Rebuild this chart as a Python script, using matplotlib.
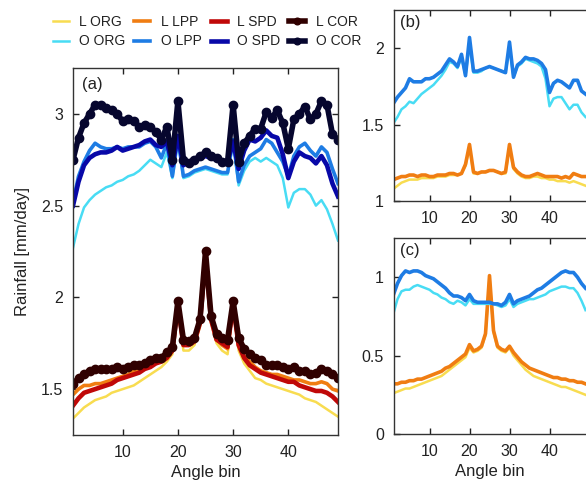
import numpy as np
import matplotlib
matplotlib.use("Agg")
import matplotlib.pyplot as plt

plt.rcParams['font.family'] = ['Liberation Sans', 'DejaVu Sans']

angle_bin = list(range(1, 50))

# ---- panel (a) ----
a_L_ORG = [1.34,1.37,1.40,1.42,1.44,1.45,1.46,1.48,1.49,1.50,1.51,1.52,1.54,1.56,1.58,1.60,1.62,1.65,1.69,1.94,
           1.71,1.71,1.74,1.84,2.20,1.86,1.75,1.71,1.69,1.94,1.71,1.64,1.60,1.56,1.55,1.53,1.52,1.51,1.50,1.49,
           1.48,1.47,1.45,1.44,1.43,1.41,1.39,1.37,1.35]
a_L_LPP = [1.47,1.50,1.52,1.52,1.53,1.53,1.54,1.55,1.56,1.57,1.58,1.60,1.61,1.62,1.63,1.65,1.66,1.68,1.71,1.96,
           1.74,1.74,1.76,1.86,2.22,1.88,1.77,1.74,1.72,1.96,1.74,1.68,1.65,1.62,1.60,1.59,1.58,1.58,1.57,1.56,
           1.55,1.55,1.54,1.53,1.53,1.54,1.53,1.50,1.49]
a_L_SPD = [1.41,1.45,1.48,1.49,1.50,1.51,1.52,1.53,1.55,1.56,1.57,1.58,1.59,1.61,1.62,1.64,1.65,1.67,1.71,1.96,
           1.74,1.74,1.76,1.86,2.22,1.88,1.77,1.75,1.73,1.96,1.74,1.67,1.63,1.61,1.59,1.58,1.57,1.56,1.55,1.54,
           1.54,1.52,1.51,1.50,1.49,1.49,1.48,1.46,1.43]
a_L_COR = [1.53,1.56,1.58,1.60,1.61,1.61,1.61,1.61,1.62,1.61,1.62,1.63,1.63,1.64,1.66,1.67,1.67,1.70,1.73,1.98,
           1.77,1.76,1.78,1.88,2.25,1.90,1.80,1.78,1.77,1.98,1.78,1.72,1.69,1.67,1.66,1.63,1.63,1.63,1.62,1.61,
           1.62,1.60,1.60,1.58,1.59,1.61,1.60,1.58,1.56]
a_O_ORG = [2.27,2.40,2.49,2.53,2.56,2.58,2.60,2.61,2.63,2.64,2.66,2.67,2.69,2.72,2.75,2.73,2.71,2.79,2.65,2.85,
           2.65,2.66,2.68,2.69,2.70,2.69,2.68,2.67,2.67,2.84,2.61,2.69,2.74,2.76,2.74,2.76,2.74,2.72,2.65,2.49,
           2.57,2.59,2.59,2.56,2.50,2.53,2.48,2.40,2.31]
a_O_LPP = [2.52,2.66,2.74,2.80,2.84,2.82,2.81,2.81,2.82,2.81,2.82,2.82,2.82,2.84,2.85,2.82,2.76,2.84,2.66,2.87,
           2.66,2.67,2.69,2.70,2.71,2.70,2.69,2.68,2.68,2.86,2.63,2.72,2.77,2.79,2.81,2.86,2.84,2.79,2.74,2.66,
           2.77,2.82,2.84,2.80,2.77,2.82,2.79,2.70,2.62]
a_O_SPD = [2.50,2.63,2.72,2.76,2.78,2.79,2.79,2.80,2.82,2.80,2.81,2.82,2.83,2.85,2.86,2.83,2.82,2.85,2.72,2.88,
           2.72,2.74,2.75,2.76,2.77,2.76,2.75,2.74,2.74,2.85,2.70,2.80,2.86,2.85,2.87,2.91,2.88,2.87,2.78,2.65,
           2.74,2.79,2.77,2.76,2.73,2.77,2.72,2.62,2.55]
a_O_COR = [2.75,2.87,2.95,3.00,3.05,3.05,3.03,3.02,3.00,2.96,2.97,2.96,2.93,2.94,2.93,2.90,2.86,2.93,2.75,3.07,
           2.75,2.73,2.75,2.77,2.79,2.77,2.76,2.74,2.74,3.05,2.74,2.84,2.88,2.92,2.92,3.01,2.98,3.02,2.95,2.81,
           2.97,3.00,3.04,2.97,3.00,3.07,3.05,2.89,2.86]

# ---- panel (b) ----
b_L_ORG = [1.08,1.10,1.12,1.13,1.14,1.14,1.14,1.15,1.15,1.15,1.15,1.16,1.16,1.16,1.17,1.17,1.17,1.18,1.23,1.35,
           1.18,1.18,1.19,1.19,1.20,1.20,1.19,1.18,1.18,1.35,1.21,1.18,1.16,1.15,1.15,1.16,1.16,1.15,1.15,1.14,
           1.14,1.13,1.13,1.13,1.12,1.13,1.12,1.11,1.10]
b_L_LPP = [1.14,1.15,1.16,1.16,1.17,1.17,1.16,1.17,1.17,1.16,1.16,1.17,1.17,1.17,1.18,1.18,1.17,1.18,1.24,1.37,
           1.19,1.18,1.19,1.19,1.20,1.20,1.19,1.18,1.19,1.37,1.22,1.19,1.17,1.16,1.16,1.17,1.18,1.17,1.16,1.16,
           1.16,1.16,1.15,1.16,1.15,1.18,1.17,1.16,1.16]
b_O_ORG = [1.51,1.55,1.60,1.62,1.65,1.64,1.67,1.70,1.72,1.74,1.76,1.79,1.82,1.86,1.91,1.90,1.87,1.94,1.82,2.02,
           1.84,1.84,1.85,1.87,1.88,1.87,1.86,1.85,1.84,2.00,1.81,1.88,1.90,1.93,1.92,1.91,1.90,1.88,1.80,1.62,
           1.67,1.68,1.68,1.64,1.60,1.63,1.63,1.58,1.55]
b_O_LPP = [1.64,1.68,1.71,1.74,1.80,1.78,1.78,1.78,1.80,1.80,1.81,1.83,1.85,1.89,1.93,1.91,1.88,1.96,1.82,2.07,
           1.85,1.85,1.86,1.87,1.88,1.87,1.86,1.85,1.84,2.04,1.81,1.89,1.91,1.94,1.93,1.93,1.92,1.90,1.86,1.71,
           1.77,1.79,1.78,1.76,1.74,1.79,1.79,1.72,1.70]

# ---- panel (c) ----
c_L_ORG = [0.26,0.27,0.28,0.29,0.29,0.30,0.31,0.32,0.33,0.34,0.35,0.36,0.37,0.39,0.41,0.43,0.45,0.47,0.49,0.55,
           0.52,0.53,0.55,0.63,1.00,0.65,0.55,0.53,0.52,0.55,0.50,0.47,0.44,0.41,0.39,0.37,0.36,0.35,0.34,0.33,
           0.32,0.31,0.30,0.30,0.29,0.28,0.27,0.26,0.25]
c_L_LPP = [0.32,0.32,0.33,0.33,0.34,0.34,0.35,0.35,0.36,0.37,0.38,0.39,0.40,0.42,0.43,0.45,0.47,0.49,0.51,0.57,
           0.53,0.54,0.56,0.64,1.01,0.66,0.56,0.54,0.53,0.56,0.52,0.49,0.46,0.44,0.42,0.41,0.40,0.39,0.38,0.37,
           0.36,0.36,0.35,0.35,0.34,0.34,0.33,0.33,0.32]
c_O_ORG = [0.77,0.86,0.91,0.92,0.92,0.94,0.95,0.94,0.93,0.92,0.90,0.89,0.87,0.86,0.84,0.83,0.85,0.84,0.82,0.86,
           0.83,0.83,0.83,0.83,0.83,0.83,0.82,0.81,0.82,0.86,0.81,0.83,0.84,0.85,0.86,0.86,0.87,0.88,0.89,0.91,
           0.92,0.93,0.94,0.94,0.93,0.93,0.90,0.85,0.79]
c_O_LPP = [0.89,0.96,1.01,1.04,1.03,1.04,1.04,1.03,1.01,1.00,0.99,0.97,0.95,0.93,0.90,0.88,0.88,0.87,0.85,0.89,
           0.85,0.84,0.84,0.84,0.84,0.83,0.83,0.82,0.84,0.89,0.83,0.85,0.86,0.87,0.88,0.90,0.92,0.93,0.95,0.97,
           0.99,1.01,1.03,1.04,1.03,1.03,1.00,0.96,0.93]

series_labels = ["L ORG", "L LPP", "L SPD", "L COR", "O ORG", "O LPP", "O SPD", "O COR"]
colors = {"L ORG": "#f8dc50", "L LPP": "#f07d12", "L SPD": "#c00808", "L COR": "#300000",
          "O ORG": "#48dcf4", "O LPP": "#1e7ce4", "O SPD": "#0808a8", "O COR": "#06062e"}
styles = {"ORG": dict(lw=1.8), "LPP": dict(lw=2.6), "SPD": dict(lw=3.3),
          "COR": dict(lw=4.0, marker='o', ms=6)}

def style(lbl):
    return styles[lbl.split()[1]]

fig = plt.figure(figsize=(5.86, 4.90), dpi=100)
W, H = 586.0, 490.0
ax_a = fig.add_axes([73/W, 1-435/H, (338-73)/W, (435-68)/H])
ax_b = fig.add_axes([393.5/W, 1-201/H, (585.5-393.5)/W, (201-10)/H])
ax_c = fig.add_axes([393.5/W, 1-434/H, (585.5-393.5)/W, (434-238)/H])

a_data = dict(zip(series_labels, [a_L_ORG, a_L_LPP, a_L_SPD, a_L_COR, a_O_ORG, a_O_LPP, a_O_SPD, a_O_COR]))
handles = {}
for lbl in series_labels:
    h, = ax_a.plot(angle_bin, a_data[lbl], color=colors[lbl], label=lbl, solid_joinstyle='round', **style(lbl))
    handles[lbl] = h

for ax, d in [(ax_b, {"L ORG": b_L_ORG, "L LPP": b_L_LPP, "O ORG": b_O_ORG, "O LPP": b_O_LPP}),
              (ax_c, {"L ORG": c_L_ORG, "L LPP": c_L_LPP, "O ORG": c_O_ORG, "O LPP": c_O_LPP})]:
    for lbl, vals in d.items():
        ax.plot(angle_bin, vals, color=colors[lbl], solid_joinstyle='round', **style(lbl))

ax_a.set_ylim(1.25, 3.25)
ax_a.set_yticks([1.5, 2, 2.5, 3])
ax_a.set_yticklabels(["1.5", "2", "2.5", "3"])
ax_b.set_ylim(1, 2.25)
ax_b.set_yticks([1, 1.5, 2])
ax_b.set_yticklabels(["1", "1.5", "2"])
ax_c.set_ylim(0, 1.25)
ax_c.set_yticks([0, 0.5, 1])
ax_c.set_yticklabels(["0", "0.5", "1"])

for ax, tag in [(ax_a, "(a)"), (ax_b, "(b)"), (ax_c, "(c)")]:
    ax.set_xlim(1, 49)
    ax.set_xticks([10, 20, 30, 40])
    ax.tick_params(direction='in', length=4, width=1, top=True, right=(ax is ax_a),
                   labelsize=11.5, colors='#222222', pad=7)
    for s in ax.spines.values():
        s.set_color('#333333')
        s.set_linewidth(1.0)
    ax.text(0.035, 0.975, tag, transform=ax.transAxes, ha='left', va='top', fontsize=12, color='#222222')

ax_b.spines['right'].set_visible(False)
ax_c.spines['right'].set_visible(False)

ax_a.set_xlabel("Angle bin", fontsize=12, color='#222222', labelpad=4)
ax_c.set_xlabel("Angle bin", fontsize=12, color='#222222', labelpad=4)
ax_a.set_ylabel("Rainfall [mm/day]", fontsize=12, color='#222222', labelpad=8)

# legend filled row by row (matplotlib fills columns, so interleave)
leg_order = ["L ORG", "O ORG", "L LPP", "O LPP", "L SPD", "O SPD", "L COR", "O COR"]
fig.legend([handles[k] for k in leg_order], leg_order, ncol=4, loc='upper center',
           bbox_to_anchor=(0.353, 0.99), frameon=False, fontsize=10, handlelength=1.15,
           handletextpad=0.75, columnspacing=0.65, labelspacing=0.42, labelcolor='#222222',
           markerscale=0.8, borderaxespad=0.3)

fig.savefig("out.png", dpi=100)
